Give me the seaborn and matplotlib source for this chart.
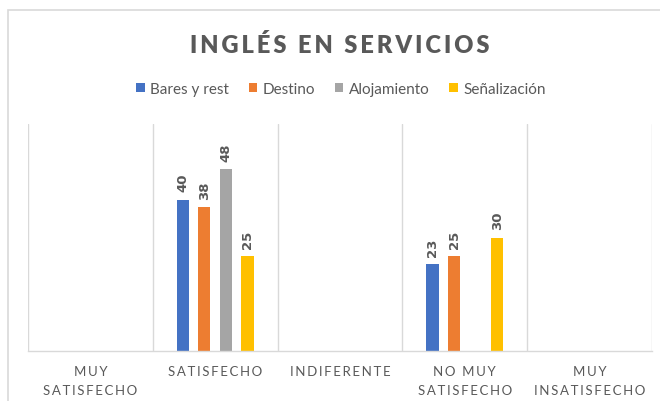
import matplotlib
matplotlib.use("Agg")
import matplotlib.pyplot as plt
import seaborn as sns
import pandas as pd
from matplotlib.patches import Patch, Rectangle

# ---- data ----
categories = ["MUY\nSATISFECHO", "SATISFECHO", "INDIFERENTE", "NO MUY\nSATISFECHO", "MUY\nINSATISFECHO"]
series_names = ["Bares y rest", "Destino", "Alojamiento", "Señalización"]
bares = [0, 40, 0, 23, 0]
destino = [0, 38, 0, 25, 0]
alojamiento = [0, 48, 0, 0, 0]
senalizacion = [0, 25, 0, 30, 0]
title_text = "INGLÉS EN SERVICIOS"

colors = ["#4472C4", "#ED7D31", "#A5A5A5", "#FFC000"]
grey_text = "#595959"
grid_col = "#D9D9D9"

rows = []
for name, vals in zip(series_names, [bares, destino, alojamiento, senalizacion]):
    for c, v in zip(categories, vals):
        rows.append({"cat": c, "serie": name, "val": v})
df = pd.DataFrame(rows)

sns.set_theme(style="white")
plt.rcParams["font.family"] = ["Lato", "DejaVu Sans"]

def spaced(s, sp="\u2009"):
    return "\n".join(sp.join(line) for line in s.split("\n"))

fig = plt.figure(figsize=(6.6, 4.02), dpi=100)
ax = fig.add_axes([28 / 660, 50 / 402, 624 / 660, 227 / 402])

sns.barplot(data=df, x="cat", y="val", hue="serie", order=categories,
            hue_order=series_names, palette=colors, width=0.69, gap=0.44,
            linewidth=0, saturation=1, legend=False, ax=ax, errorbar=None)

ax.set_ylim(0, 60)
ax.set_xlim(-0.5, len(categories) - 0.5)
ax.set_xlabel("")
ax.set_ylabel("")
ax.set_yticks([])
for b in [i - 0.5 for i in range(len(categories) + 1)]:
    ax.axvline(b, color=grid_col, lw=1, zorder=0)
for s in ["top", "left", "right"]:
    ax.spines[s].set_visible(False)
ax.spines["bottom"].set_color(grid_col)
ax.spines["bottom"].set_linewidth(1)

ax.set_xticks(range(len(categories)))
ax.set_xticklabels([spaced(c) for c in categories], fontsize=9.5, color=grey_text,
                   linespacing=1.75)
ax.tick_params(axis="x", length=0, pad=10)

for cont, vals in zip(ax.containers, [bares, destino, alojamiento, senalizacion]):
    labels = [f"{v:g}" if v else "" for v in vals]
    ax.bar_label(cont, labels=labels, rotation=90, padding=6, fontsize=9.5,
                 fontweight="bold", color=grey_text, family="DejaVu Sans")

fig.text(340 / 660, 1 - 53 / 402, spaced(title_text, "\u2009"), ha="center", va="baseline",
         fontsize=17, fontweight="heavy", color=grey_text)

handles = [Patch(facecolor=c, edgecolor="none") for c in colors]
fig.legend(handles, series_names, loc="center", bbox_to_anchor=(341 / 660, 1 - 90 / 402),
           ncol=4, frameon=False, fontsize=11, labelcolor=grey_text,
           handlelength=0.55, handleheight=0.55, handletextpad=0.35, columnspacing=1.3)

fig.patches.append(Rectangle((8 / 660, -0.05), 1.2, 1 - 11 / 402 + 0.05,
                             transform=fig.transFigure, fill=False,
                             edgecolor=grid_col, lw=1.2))

fig.savefig("out.png", dpi=100)
